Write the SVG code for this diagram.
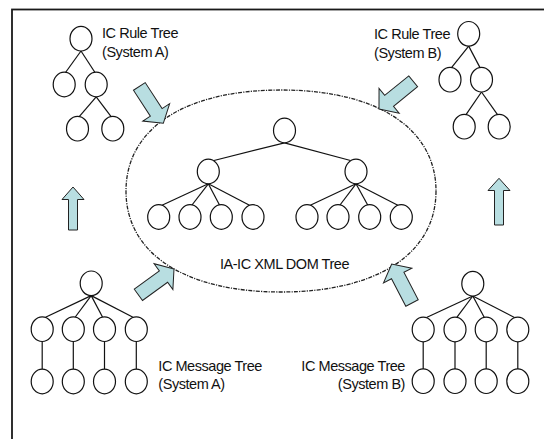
<svg xmlns="http://www.w3.org/2000/svg" xmlns:xlink="http://www.w3.org/1999/xlink" width="544" height="439" viewBox="0 0 544 439">
  <style>
    .node { fill: #ffffff; stroke: #111111; stroke-width: 1.2; }
    .edge { stroke: #111111; stroke-width: 1.2; fill: none; }
    .flow { fill: #b8dee1; stroke: #222222; stroke-width: 1; stroke-linejoin: miter; }
    .label { font-family: "Liberation Sans", Arial, sans-serif; font-size: 14.5px; fill: #111111; letter-spacing: -0.45px; }
    .frame { fill: none; stroke: #1a1a1a; stroke-width: 1.8; }
    .dom { fill: none; stroke: #222222; stroke-width: 1.3; stroke-dasharray: 4 1.2 1.2 1.2; }
  </style>
  <defs>
    <!-- block arrow, tip at the origin, pointing along +x -->
    <path id="diag-arrow" d="M0,0 L-13,-16 L-13,-7 L-44,-7 L-44,7 L-13,7 L-13,16 Z"/>
  </defs>

  <!-- outer frame (runs off the right and bottom edges) -->
  <rect class="frame" x="12" y="9.5" width="600" height="500"/>

  <!-- merged DOM region -->
  <path id="dom-region" class="dom" d="M436,191 C436,253.6 377.1,292 281,292 C184.9,292 126,253.6 126,191 C126,128.4 184.9,90 281,90 C377.1,90 436,128.4 436,191 Z"/>

  <g id="connectors">
    <!-- rule tree A edges -->
    <g class="edge">
      <line x1="81" y1="51" x2="65.5" y2="72.5"/>
      <line x1="81" y1="51" x2="95" y2="72.5"/>
      <line x1="96.2" y1="96.8" x2="79" y2="116.8"/>
      <line x1="96.2" y1="96.8" x2="111.3" y2="116.8"/>
    </g>
    <!-- rule tree B edges -->
    <g class="edge">
      <line x1="468.7" y1="46.1" x2="451.5" y2="67.6"/>
      <line x1="468.7" y1="46.1" x2="480" y2="67.6"/>
      <line x1="481.5" y1="92" x2="466" y2="114.6"/>
      <line x1="481.5" y1="92" x2="497.5" y2="114.6"/>
    </g>
    <!-- DOM tree edges -->
    <g class="edge">
      <line x1="284.5" y1="142.8" x2="214" y2="160.5"/>
      <line x1="284.5" y1="142.8" x2="350.5" y2="160.5"/>
      <line x1="208.3" y1="183.8" x2="162" y2="205.3"/>
      <line x1="208.3" y1="183.8" x2="192" y2="205"/>
      <line x1="208.3" y1="183.8" x2="219.5" y2="205"/>
      <line x1="208.3" y1="183.8" x2="249.5" y2="205.3"/>
      <line x1="356" y1="183.8" x2="310.3" y2="205.3"/>
      <line x1="356" y1="183.8" x2="340" y2="205"/>
      <line x1="356" y1="183.8" x2="367.7" y2="205"/>
      <line x1="356" y1="183.8" x2="397.8" y2="205.3"/>
    </g>
    <!-- message tree A edges -->
    <g class="edge">
      <line x1="91.2" y1="295.6" x2="45.5" y2="317.2"/>
      <line x1="91.2" y1="295.6" x2="75.3" y2="317"/>
      <line x1="91.2" y1="295.6" x2="102.5" y2="317"/>
      <line x1="91.2" y1="295.6" x2="133" y2="317.2"/>
      <line x1="42.2" y1="341.5" x2="42.2" y2="369.2"/>
      <line x1="73.3" y1="341.5" x2="73.3" y2="369.2"/>
      <line x1="104.5" y1="341.5" x2="104.5" y2="369.2"/>
      <line x1="136.3" y1="341.5" x2="136.3" y2="369.2"/>
    </g>
    <!-- message tree B edges -->
    <g class="edge">
      <line x1="472.8" y1="296" x2="426.5" y2="317.5"/>
      <line x1="472.8" y1="296" x2="457" y2="317.2"/>
      <line x1="472.8" y1="296" x2="484.2" y2="317.2"/>
      <line x1="472.8" y1="296" x2="514.5" y2="317.5"/>
      <line x1="423.2" y1="341.8" x2="423.2" y2="368.9"/>
      <line x1="455" y1="341.8" x2="455" y2="368.9"/>
      <line x1="486.2" y1="341.8" x2="486.2" y2="368.9"/>
      <line x1="517.8" y1="341.8" x2="517.8" y2="368.9"/>
    </g>

    <!-- flow arrows into the DOM tree -->
    <use xlink:href="#diag-arrow" class="flow" transform="translate(163.3,123.3) rotate(57)"/>
    <use xlink:href="#diag-arrow" class="flow" transform="translate(379,109) rotate(141)"/>
    <use xlink:href="#diag-arrow" class="flow" transform="translate(174,269) rotate(-36)"/>
    <use xlink:href="#diag-arrow" class="flow" transform="translate(391.7,264) rotate(-117.5)"/>
    <!-- message tree to rule tree arrows -->
    <path class="flow" d="M73,187 L62,199.5 L68.5,199.5 L68.5,230 L77.5,230 L77.5,199.5 L84,199.5 Z"/>
    <path class="flow" d="M499,178.3 L488,190.5 L494.5,190.5 L494.5,225 L503.5,225 L503.5,190.5 L510,190.5 Z"/>
  </g>

  <g id="rule-tree-a">
    <ellipse class="node" cx="81" cy="38.7" rx="11" ry="12.3"/>
    <ellipse class="node" cx="64.2" cy="84.5" rx="11" ry="12.3"/>
    <ellipse class="node" cx="96.2" cy="84.5" rx="11" ry="12.3"/>
    <ellipse class="node" cx="77.5" cy="128.7" rx="11" ry="12.3"/>
    <ellipse class="node" cx="112.8" cy="128.7" rx="11" ry="12.3"/>
    <text class="label" x="102" y="38">IC Rule Tree</text>
    <text class="label" x="102" y="57">(System A)</text>
  </g>

  <g id="rule-tree-b">
    <ellipse class="node" cx="468.7" cy="33.8" rx="11" ry="12.3"/>
    <ellipse class="node" cx="450" cy="79.7" rx="11" ry="12.3"/>
    <ellipse class="node" cx="481.5" cy="79.7" rx="11" ry="12.3"/>
    <ellipse class="node" cx="464.2" cy="126.7" rx="11" ry="12.3"/>
    <ellipse class="node" cx="499.2" cy="126.7" rx="11" ry="12.3"/>
    <text class="label" x="374" y="38.5">IC Rule Tree</text>
    <text class="label" x="374" y="57.5">(System B)</text>
  </g>

  <g id="dom-tree">
    <ellipse class="node" cx="284.5" cy="130.5" rx="11" ry="12.3"/>
    <ellipse class="node" cx="208.3" cy="171.5" rx="11" ry="12.3"/>
    <ellipse class="node" cx="356" cy="171.5" rx="11" ry="12.3"/>
    <ellipse class="node" cx="158.7" cy="217" rx="11" ry="12.3"/>
    <ellipse class="node" cx="190" cy="217" rx="11" ry="12.3"/>
    <ellipse class="node" cx="221.3" cy="217" rx="11" ry="12.3"/>
    <ellipse class="node" cx="253" cy="217" rx="11" ry="12.3"/>
    <ellipse class="node" cx="307" cy="217" rx="11" ry="12.3"/>
    <ellipse class="node" cx="338" cy="217" rx="11" ry="12.3"/>
    <ellipse class="node" cx="369.7" cy="217" rx="11" ry="12.3"/>
    <ellipse class="node" cx="401.3" cy="217" rx="11" ry="12.3"/>
    <text class="label" x="284.5" y="269" text-anchor="middle">IA-IC XML DOM Tree</text>
  </g>

  <g id="message-tree-a">
    <ellipse class="node" cx="91.2" cy="283.3" rx="11" ry="12.3"/>
    <ellipse class="node" cx="42.2" cy="329.2" rx="11" ry="12.3"/>
    <ellipse class="node" cx="73.3" cy="329.2" rx="11" ry="12.3"/>
    <ellipse class="node" cx="104.5" cy="329.2" rx="11" ry="12.3"/>
    <ellipse class="node" cx="136.3" cy="329.2" rx="11" ry="12.3"/>
    <ellipse class="node" cx="42.2" cy="381.5" rx="11" ry="12.3"/>
    <ellipse class="node" cx="73.3" cy="381.5" rx="11" ry="12.3"/>
    <ellipse class="node" cx="104.5" cy="381.5" rx="11" ry="12.3"/>
    <ellipse class="node" cx="136.3" cy="381.5" rx="11" ry="12.3"/>
    <text class="label" x="158.3" y="371">IC Message Tree</text>
    <text class="label" x="158.3" y="389">(System A)</text>
  </g>

  <g id="message-tree-b">
    <ellipse class="node" cx="472.8" cy="283.7" rx="11" ry="12.3"/>
    <ellipse class="node" cx="423.2" cy="329.5" rx="11" ry="12.3"/>
    <ellipse class="node" cx="455" cy="329.5" rx="11" ry="12.3"/>
    <ellipse class="node" cx="486.2" cy="329.5" rx="11" ry="12.3"/>
    <ellipse class="node" cx="517.8" cy="329.5" rx="11" ry="12.3"/>
    <ellipse class="node" cx="423.2" cy="381.2" rx="11" ry="12.3"/>
    <ellipse class="node" cx="455" cy="381.2" rx="11" ry="12.3"/>
    <ellipse class="node" cx="486.2" cy="381.2" rx="11" ry="12.3"/>
    <ellipse class="node" cx="517.8" cy="381.2" rx="11" ry="12.3"/>
    <text class="label" x="405" y="371" text-anchor="end">IC Message Tree</text>
    <text class="label" x="405" y="389" text-anchor="end">(System B)</text>
  </g>
</svg>
